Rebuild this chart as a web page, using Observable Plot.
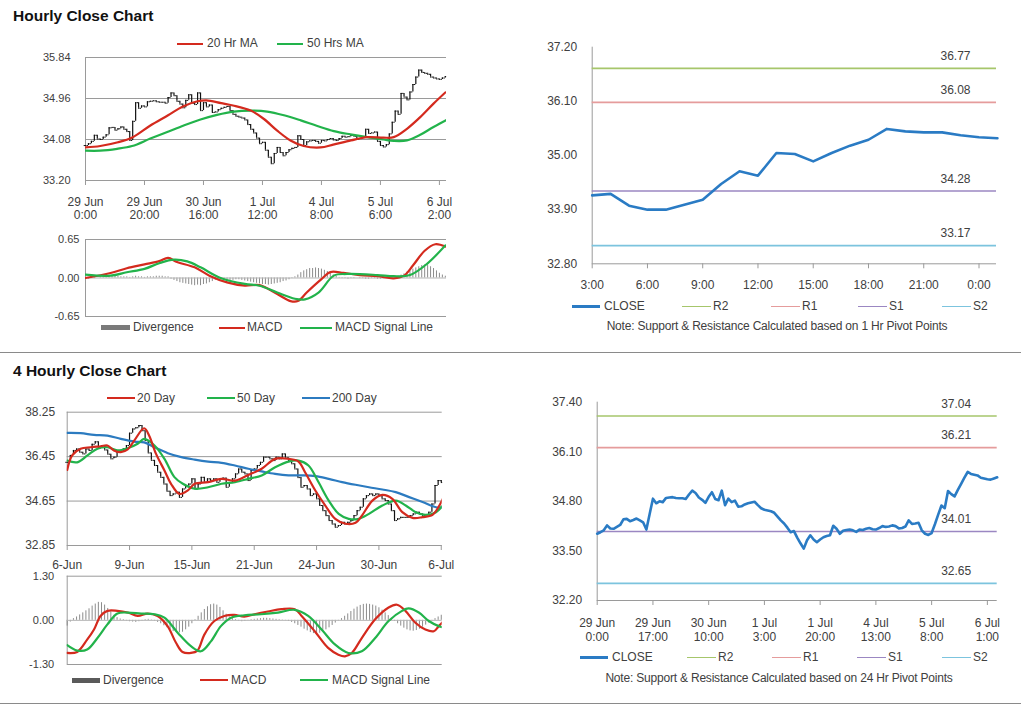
<!DOCTYPE html>
<html><head><meta charset="utf-8">
<script src="https://cdn.jsdelivr.net/npm/d3@7"></script>
<script src="https://cdn.jsdelivr.net/npm/@observablehq/plot@0.6"></script>
<style>
body{margin:0;background:#fff;font-family:"Liberation Sans",Arial,sans-serif;}
#root{position:relative;width:1024px;height:706px;overflow:hidden;background:#fff;}
.abs{position:absolute;}
.title{position:absolute;font-weight:bold;font-size:15.5px;line-height:15.5px;color:#111;white-space:nowrap;}
.lg{position:absolute;font-size:12px;line-height:14px;color:#404040;white-space:nowrap;}
.sep{position:absolute;left:0;width:1021px;height:1px;background:#8a8a8a;}
</style></head>
<body><div id="root"></div>
<script>
// ---------------- DATA ----------------
// Hourly closes, 29 Jun 0:00 .. 6 Jul ~3:00 (one per trading hour)
const hourlyClose = [
33.95,33.99,34.04,34.17,34.09,34.08,34.13,34.18,34.33,34.34,
34.28,34.31,34.35,34.30,34.25,34.06,34.47,34.87,34.75,34.80,
34.78,34.89,34.90,34.91,34.89,34.88,34.88,34.86,34.98,35.08,
35.02,34.90,34.84,34.76,34.92,35.04,34.86,34.83,35.08,34.70,
34.87,34.78,34.82,34.66,34.67,34.72,34.75,34.77,34.79,34.70,
34.62,34.58,34.56,34.54,34.50,34.40,34.30,34.22,34.11,33.99,
34.02,33.85,33.70,33.56,33.78,33.91,33.80,33.73,33.80,33.86,
33.89,33.91,34.16,34.08,33.95,34.03,34.05,34.06,34.04,34.00,
34.06,34.05,34.08,34.10,34.07,34.06,34.10,34.15,34.13,34.14,
34.17,34.15,34.09,34.10,34.14,34.30,34.21,34.22,34.24,34.04,
33.95,33.92,33.97,34.20,34.45,34.69,34.62,35.07,34.99,34.93,
35.10,35.26,35.42,35.57,35.52,35.50,35.48,35.42,35.40,35.38,
35.37,35.40,35.43];
const hourlyMA20 = [[0,33.91],[5,33.94],[11,34.02],[16,34.13],[22,34.38],[28,34.60],[33,34.79],[38,34.90],[41,34.92],[46,34.86],[50,34.81],[56,34.70],[60.5,34.52],[65,34.27],[69.5,34.06],[74,33.94],[79.7,33.91],[84,33.97],[90,34.06],[95.5,34.13],[101,34.12],[104.5,34.13],[109,34.31],[113.5,34.56],[118,34.85],[122,35.09]];
const hourlyMA50 = [[0,33.84],[5,33.84],[10.7,33.88],[15.8,33.94],[22,34.10],[27.7,34.24],[33.3,34.38],[39,34.51],[44.6,34.61],[50.3,34.68],[56,34.70],[61.6,34.68],[67.3,34.60],[73,34.49],[78.6,34.37],[84.2,34.26],[89.8,34.19],[95.5,34.13],[101,34.08],[104.5,34.05],[109,34.06],[113.5,34.18],[118,34.35],[122.4,34.50]];
const hourlyMACD = [[0,0],[8.5,0.085],[14,0.165],[20,0.23],[25,0.285],[28,0.34],[31,0.27],[37,0.18],[42,0.04],[48,-0.074],[54,-0.13],[59,-0.12],[65,-0.27],[69.5,-0.39],[72,-0.39],[75,-0.245],[80,-0.02],[83,0.10],[87.5,0.085],[93,0.05],[99,0.03],[104.5,-0.005],[108,0.04],[111,0.21],[115,0.46],[118.6,0.57],[122,0.53]];
const hourlySignal = [[0,0.057],[8.5,0.04],[14,0.097],[20,0.154],[25,0.25],[30,0.31],[34.5,0.28],[39,0.18],[45.8,0.0],[54,-0.10],[59,-0.13],[65,-0.245],[71,-0.35],[74.4,-0.36],[79,-0.245],[84.2,0.04],[88.7,0.068],[99,0.05],[104.5,0.03],[110,0.05],[115.8,0.24],[122,0.55]];
const hourlyDiv = [
-0.02,-0.02,-0.01,-0.01,0.00,0.02,0.03,0.03,0.04,0.04,
0.03,0.03,0.02,0.02,0.02,0.01,0.02,0.03,0.02,0.02,
0.01,0.02,0.02,0.02,0.03,0.03,0.03,0.02,0.02,-0.02,
-0.04,-0.06,-0.08,-0.09,-0.10,-0.11,-0.12,-0.13,-0.12,-0.13,
-0.11,-0.10,-0.08,-0.06,-0.04,-0.03,-0.03,-0.02,-0.03,-0.04,
-0.04,-0.03,-0.03,-0.04,-0.05,-0.06,-0.07,-0.08,-0.09,-0.10,
-0.11,-0.11,-0.12,-0.11,-0.10,-0.09,-0.08,-0.06,-0.05,-0.03,
-0.01,0.02,0.05,0.09,0.12,0.14,0.16,0.16,0.17,0.16,
0.15,0.13,0.11,0.08,0.05,0.03,0.01,-0.01,-0.01,-0.02,
-0.01,-0.01,0.00,-0.01,-0.01,-0.02,-0.02,-0.01,-0.01,-0.02,
-0.02,-0.01,0.00,0.01,0.01,0.02,0.03,0.05,0.07,0.10,
0.12,0.15,0.17,0.19,0.21,0.22,0.21,0.19,0.16,0.12,
0.08,0.05,0.03];
const hourlyYTicks = [33.20, 34.08, 34.96, 35.84];
const hourlyMacdTicks = [-0.65, 0, 0.65];
const hourlyTickIdx = [0, 20, 40, 60, 80, 100, 120];
const hourlyTickLabels = ["29 Jun\n0:00","29 Jun\n20:00","30 Jun\n16:00","1 Jul\n12:00","4 Jul\n8:00","5 Jul\n6:00","6 Jul\n2:00"];

// 1 Hr pivot panel
const pivot1Close = [34.19,34.22,33.98,33.90,33.90,34.00,34.10,34.42,34.68,34.59,35.05,35.03,34.88,35.05,35.20,35.32,35.54,35.49,35.47,35.47,35.41,35.37,35.35];
const pivot1Levels = [36.77, 36.08, 34.28, 33.17];
const pivot1YTicks = [32.80, 33.90, 35.00, 36.10, 37.20];
const pivot1TickIdx = [0, 3, 6, 9, 12, 15, 18, 21];
const pivot1TickLabels = ["3:00","6:00","9:00","12:00","15:00","18:00","21:00","0:00"];

// 4 hourly panel
const fourClose = [
36.22,36.50,36.70,36.76,36.63,36.56,36.76,36.70,36.95,37.05,
36.80,36.90,36.72,36.55,36.36,36.43,36.63,36.66,36.76,36.90,
37.40,37.57,37.62,37.71,37.50,37.10,36.60,36.30,36.09,35.82,
35.61,35.34,35.05,34.87,34.94,35.01,34.80,35.14,35.25,35.34,
35.55,35.14,35.34,35.61,35.41,35.55,35.48,35.55,35.41,35.55,
35.58,35.21,35.40,35.55,35.75,35.95,35.82,35.75,35.48,35.89,
35.95,36.09,36.22,36.43,36.43,36.36,36.29,36.43,36.36,36.56,
36.40,36.29,36.16,35.95,35.60,35.21,35.28,35.14,34.87,34.94,
34.74,34.47,34.26,34.06,33.86,33.72,33.59,33.66,33.79,33.72,
33.79,33.86,34.06,34.26,34.40,34.74,34.87,34.94,34.87,34.94,
34.87,34.74,34.67,34.53,34.26,33.86,33.93,33.99,33.99,33.99,
34.06,34.13,34.20,34.13,34.06,34.10,34.20,34.53,35.28,35.48,
35.40];
const fourMA20 = [[0,35.91],[1.6,36.50],[4.3,36.77],[7.5,36.83],[10.8,36.87],[12.9,36.90],[15,36.70],[17.2,36.63],[19.4,36.74],[21.5,37.10],[24.7,37.60],[26.3,37.30],[28.5,36.56],[31.2,35.89],[33.3,35.35],[36,34.94],[38.7,35.08],[40.9,35.35],[45.2,35.42],[49.5,35.55],[53.8,35.48],[58.1,35.71],[62.4,35.96],[66.7,36.36],[71,36.36],[74.2,36.25],[76.3,35.82],[79.6,35.08],[82.8,34.47],[86,33.93],[89.3,33.73],[92.5,33.77],[94.6,34.07],[97.9,34.67],[101.1,34.90],[104.3,34.74],[107.5,34.20],[110.8,33.97],[114,34.00],[117.2,34.09],[119.4,34.47],[121,34.88]];
const fourMA50 = [[0,36.29],[3.2,36.22],[6.5,36.50],[9.7,36.77],[12.9,36.83],[16.1,36.70],[19.4,36.79],[22.6,36.97],[24.7,37.17],[28,36.90],[31.2,36.36],[34.4,35.62],[37.1,35.35],[40.9,35.15],[45.2,35.21],[49.5,35.35],[53.8,35.42],[58.1,35.55],[62.4,35.69],[66.7,36.02],[71,36.25],[74.2,36.29],[77.4,36.09],[80.6,35.42],[83.9,34.67],[87.1,34.13],[90.3,33.93],[93.5,33.93],[96.8,34.13],[101.1,34.47],[105.4,34.67],[108.6,34.47],[111.8,34.20],[115,34.09],[118.3,34.20],[121,34.54]];
const fourMA200 = [[0,37.41],[4.3,37.40],[8.6,37.33],[12.9,37.30],[17.2,37.17],[21.5,37.06],[24.7,37.03],[28,36.83],[32.3,36.59],[36.6,36.43],[40.9,36.33],[45.2,36.25],[49.5,36.20],[53.8,36.09],[58.1,35.96],[62.4,35.85],[66.7,35.75],[71,35.69],[75.3,35.69],[79.6,35.66],[83.9,35.55],[88.2,35.42],[92.5,35.31],[96.8,35.21],[101.1,35.12],[105.4,35.01],[109.7,34.81],[114,34.61],[118.3,34.40],[121,34.40]];
const fourMACD = [[0,-0.96],[3.2,-0.93],[6.4,-0.57],[8.6,-0.27],[10.7,0.13],[12.9,0.28],[16.1,0.28],[19.4,0.23],[22.6,0.13],[25.8,0.20],[29,0.13],[32.2,-0.17],[34.9,-0.66],[37,-0.93],[39.7,-0.96],[41.8,-0.89],[44,-0.42],[47.2,-0.02],[50.4,0.13],[53.6,0.16],[56.8,0.11],[60.1,0.18],[64.4,0.26],[68.7,0.33],[73,0.33],[75.2,0.13],[79.4,-0.32],[83.7,-0.81],[87,-1.01],[89.1,-1.06],[91.3,-0.96],[94.5,-0.52],[98.8,0.03],[103.1,0.38],[105.8,0.46],[108.5,0.28],[111.7,-0.07],[114.9,-0.27],[117.6,-0.32],[119.2,-0.17],[120.8,-0.02]];
const fourSignal = [[0,-0.73],[3.2,-0.89],[6.4,-0.86],[9.7,-0.52],[12.9,-0.12],[16.1,0.20],[19.4,0.23],[23.7,0.20],[28,0.18],[31.2,0.08],[35.5,-0.37],[39.7,-0.76],[42.9,-0.91],[46.1,-0.62],[49.3,-0.17],[52.6,0.08],[56.8,0.15],[62.2,0.18],[67.6,0.23],[73,0.31],[77.3,0.13],[81.6,-0.27],[85.9,-0.71],[90.2,-0.96],[94.5,-0.91],[98.8,-0.52],[103.1,-0.02],[107.4,0.28],[109.5,0.35],[112.8,0.23],[116,-0.02],[119.2,-0.17],[121.4,-0.22]];
const fourDiv = [
-0.17,-0.05,0.05,0.10,0.16,0.22,0.28,0.34,0.42,0.48,
0.53,0.52,0.45,0.35,0.25,0.15,0.08,0.04,0.02,-0.02,
-0.04,-0.05,-0.06,-0.04,-0.02,0.02,0.03,0.01,-0.02,-0.06,
-0.10,-0.16,-0.22,-0.28,-0.33,-0.36,-0.37,-0.35,-0.28,-0.20,
-0.10,0.02,0.12,0.22,0.32,0.40,0.46,0.48,0.45,0.38,
0.28,0.18,0.10,0.05,0.02,-0.02,-0.04,-0.03,-0.01,0.02,
0.03,0.04,0.05,0.06,0.06,0.05,0.04,0.03,0.02,0.01,
-0.01,-0.03,-0.06,-0.10,-0.15,-0.20,-0.26,-0.31,-0.36,-0.39,
-0.40,-0.38,-0.34,-0.28,-0.22,-0.15,-0.08,-0.02,0.05,0.12,
0.19,0.26,0.33,0.39,0.44,0.47,0.48,0.47,0.45,0.42,
0.37,0.30,0.22,0.14,0.06,-0.03,-0.10,-0.17,-0.23,-0.28,
-0.31,-0.32,-0.30,-0.26,-0.20,-0.14,-0.08,-0.02,0.05,0.10,
0.15];
const fourYTicks = [32.85, 34.65, 36.45, 38.25];
const fourMacdTicks = [-1.30, 0, 1.30];
const fourTickIdx = [0, 20, 40, 60, 80, 100, 120];
const fourTickLabels = ["6-Jun","9-Jun","15-Jun","21-Jun","24-Jun","30-Jun","6-Jul"];

// 24 Hr pivot panel (uses the hourly closes)
const pivot24Levels = [37.04, 36.21, 34.01, 32.65];
const pivot24YTicks = [32.20, 33.50, 34.80, 36.10, 37.40];
const pivot24TickIdx = [0, 17, 34, 51, 68, 85, 102, 119];
const pivot24TickLabels = ["29 Jun\n0:00","29 Jun\n17:00","30 Jun\n10:00","1 Jul\n3:00","1 Jul\n20:00","4 Jul\n13:00","5 Jul\n8:00","6 Jul\n1:00"];

const levelNames = ["R2","R1","S1","S2"];

// ---------------- STYLE ----------------
const FONT = '"Liberation Sans", Arial, Helvetica, sans-serif';
const AX = "#9a9a9a", TXT = "#404040";
const RED = "#d42a1e", GREEN = "#22b34b", BLUE200 = "#2c7bc0", CLOSEC = "#2a7bc4", DIVC = "#8c8c8c";
const levelColors = ["#a6c66b", "#e59c9c", "#9b87c2", "#7cc4de"];

const root = document.getElementById("root");
function mount(svg, left, top) {
  const d = document.createElement("div");
  d.className = "abs"; d.style.left = left + "px"; d.style.top = top + "px";
  d.appendChild(svg); root.appendChild(d);
}
function text(str, left, top, cls, extra) {
  const d = document.createElement("div");
  d.className = cls; d.textContent = str;
  d.style.left = left + "px"; d.style.top = top + "px";
  if (extra) Object.assign(d.style, extra);
  root.appendChild(d); return d;
}
function legend(items, y) {
  for (const it of items) {
    const s = document.createElement("div");
    s.className = "abs";
    s.style.left = it.x0 + "px"; s.style.width = (it.x1 - it.x0) + "px";
    s.style.top = (y - it.th / 2) + "px"; s.style.height = it.th + "px";
    s.style.background = it.color;
    root.appendChild(s);
    text(it.label, it.tx, y - 7.5, "lg");
  }
}
const style = (fs) => ({fontFamily: FONT, fontSize: fs, color: TXT, background: "transparent", overflow: "visible"});
const pl = (pairs, color, w) => Plot.line(pairs, {x: d => d[0], y: d => d[1], stroke: color, strokeWidth: w, curve: "catmull-rom", clip: true});
const bars = (closes) => closes.map((c, i) => ({i, o: i === 0 ? c : closes[i - 1], c}));
const barMarks = (data) => [
  Plot.ruleX(data, {x: "i", y1: "o", y2: "c", stroke: "#111", strokeWidth: 1.2}),
  Plot.ruleY(data, {y: "o", x1: d => d.i - 0.45, x2: "i", stroke: "#111", strokeWidth: 1}),
  Plot.ruleY(data, {y: "c", x1: "i", x2: d => d.i + 0.45, stroke: "#111", strokeWidth: 1})
];
const fmt2 = d => d.toFixed(2);

// ---------------- TITLES & SEPARATORS ----------------
text("Hourly Close Chart", 13, 7.6, "title");
text("4 Hourly Close Chart", 13, 362.6, "title");
const s1 = document.createElement("div"); s1.className = "sep"; s1.style.top = "352px"; root.appendChild(s1);
const s2 = document.createElement("div"); s2.className = "sep"; s2.style.top = "703px"; root.appendChild(s2);

// ---------------- PANEL 1: hourly price ----------------
mount(Plot.plot({
  width: 460, height: 190, marginLeft: 85, marginRight: 14, marginTop: 17, marginBottom: 50,
  style: style("11px"),
  x: {domain: [0, 122.4], label: null}, y: {domain: [33.2, 35.84], label: null},
  marks: [
    Plot.ruleY(hourlyYTicks, {stroke: AX}),
    Plot.ruleX([0], {stroke: AX}),
    Plot.axisY(hourlyYTicks, {tickSize: 0, tickPadding: 15, tickFormat: fmt2, fill: TXT, label: null}),
    Plot.axisX(hourlyTickIdx, {tickSize: 5, tickPadding: 11, stroke: AX, fill: TXT, fontSize: 12, lineHeight: 1.12, label: null,
      tickFormat: d => hourlyTickLabels[hourlyTickIdx.indexOf(d)]}),
    ...barMarks(bars(hourlyClose)),
    pl(hourlyMA50, GREEN, 2.2),
    pl(hourlyMA20, RED, 2.2)
  ]
}), 0, 40);
legend([
  {x0: 177, x1: 203, th: 2, color: RED, label: "20 Hr MA", tx: 207},
  {x0: 277, x1: 303, th: 2, color: GREEN, label: "50 Hrs MA", tx: 307}
], 43.5);

// ---------------- PANEL 1b: hourly MACD ----------------
mount(Plot.plot({
  width: 460, height: 95, marginLeft: 85, marginRight: 14, marginTop: 11, marginBottom: 7,
  style: style("11px"),
  x: {domain: [0, 122.4], axis: null, label: null}, y: {domain: [-0.65, 0.65], label: null},
  marks: [
    Plot.ruleY([0.65, -0.65], {stroke: AX}),
    Plot.ruleX([0], {stroke: AX}),
    Plot.axisY(hourlyMacdTicks, {tickSize: 0, tickPadding: 6, tickFormat: fmt2, fill: TXT, label: null}),
    Plot.ruleX(hourlyDiv.map((v, i) => ({i, v})), {x: "i", y1: 0, y2: "v", stroke: DIVC, strokeWidth: 1}),
    Plot.ruleY([0], {stroke: "#b5b5b5"}),
    pl(hourlyMACD, RED, 2.2),
    pl(hourlySignal, GREEN, 2.2)
  ]
}), 0, 228);
legend([
  {x0: 101, x1: 130, th: 5, color: "#7a7a7a", label: "Divergence", tx: 133},
  {x0: 219, x1: 245, th: 2, color: RED, label: "MACD", tx: 247},
  {x0: 300, x1: 332, th: 2, color: GREEN, label: "MACD  Signal Line", tx: 335}
], 327.5);

// ---------------- PANEL 2: 1 Hr pivot ----------------
function pivotMarks(levels) {
  const m = [];
  levels.forEach((v, k) => {
    m.push(Plot.ruleY([v], {stroke: levelColors[k], strokeWidth: 1.6}));
    m.push(Plot.text([v], {y: d => d, frameAnchor: "right", dx: -26, dy: -12, text: fmt2, fill: TXT, fontSize: 12}));
  });
  return m;
}
mount(Plot.plot({
  width: 490, height: 270, marginLeft: 71.7, marginRight: 14, marginTop: 16.7, marginBottom: 36.7,
  style: style("12px"),
  x: {domain: [0, 21.95], label: null}, y: {domain: [32.8, 37.2], label: null},
  marks: [
    Plot.ruleX([0], {stroke: AX}),
    Plot.ruleY([32.8], {stroke: AX}),
    Plot.axisY(pivot1YTicks, {tickSize: 0, tickPadding: 15, tickFormat: fmt2, fill: TXT, label: null}),
    Plot.axisX(pivot1TickIdx, {tickSize: 5, tickPadding: 12, stroke: AX, fill: TXT, label: null,
      tickFormat: d => pivot1TickLabels[pivot1TickIdx.indexOf(d)]}),
    ...pivotMarks(pivot1Levels),
    Plot.line(pivot1Close.map((v, i) => ({i, v})), {x: "i", y: "v", stroke: CLOSEC, strokeWidth: 2.6})
  ]
}), 520, 30);
function pivotLegend(y, xs) {
  const items = [{x0: xs[0], x1: xs[0] + 28, th: 2.5, color: CLOSEC, label: "CLOSE", tx: xs[0] + 32}];
  levelNames.forEach((n, k) => items.push({x0: xs[k + 1], x1: xs[k + 1] + 29, th: 1, color: levelColors[k], label: n, tx: xs[k + 1] + 31}));
  legend(items, y);
}
pivotLegend(306.5, [572, 682, 771, 858, 942]);
text("Note: Support & Resistance Calculated based on 1 Hr Pivot Points", 0, 318.5, "lg",
  {left: "777px", transform: "translateX(-50%)", letterSpacing: "-0.2px"});

// ---------------- PANEL 3: 4 hourly price ----------------
mount(Plot.plot({
  width: 460, height: 172, marginLeft: 66.7, marginRight: 18.3, marginTop: 11.7, marginBottom: 27,
  style: style("12px"),
  x: {domain: [0, 120.3], label: null}, y: {domain: [32.85, 38.25], label: null},
  marks: [
    Plot.ruleY(fourYTicks, {stroke: AX}),
    Plot.ruleX([0], {stroke: AX}),
    Plot.axisY(fourYTicks, {tickSize: 0, tickPadding: 12, tickFormat: fmt2, fill: TXT, label: null}),
    Plot.axisX(fourTickIdx, {tickSize: 5, tickPadding: 10, stroke: AX, fill: TXT, label: null,
      tickFormat: d => fourTickLabels[fourTickIdx.indexOf(d)]}),
    ...barMarks(bars(fourClose)),
    pl(fourMA200, BLUE200, 2.2),
    pl(fourMA50, GREEN, 2.2),
    pl(fourMA20, RED, 2.2)
  ]
}), 0, 400);
legend([
  {x0: 107, x1: 135, th: 2, color: RED, label: "20 Day", tx: 137},
  {x0: 207, x1: 235, th: 2, color: GREEN, label: "50 Day", tx: 237},
  {x0: 302, x1: 330, th: 2, color: BLUE200, label: "200 Day", tx: 332}
], 398.3);

// ---------------- PANEL 3b: 4 hourly MACD ----------------
mount(Plot.plot({
  width: 460, height: 100, marginLeft: 66.7, marginRight: 18.3, marginTop: 7.7, marginBottom: 4,
  style: style("11px"),
  x: {domain: [0, 120.3], axis: null, label: null}, y: {domain: [-1.3, 1.3], label: null},
  marks: [
    Plot.ruleY([1.3, -1.3], {stroke: AX}),
    Plot.ruleX([0], {stroke: AX}),
    Plot.axisY(fourMacdTicks, {tickSize: 0, tickPadding: 13, tickFormat: fmt2, fill: TXT, label: null}),
    Plot.ruleX(fourDiv.map((v, i) => ({i, v})), {x: "i", y1: 0, y2: "v", stroke: DIVC, strokeWidth: 1}),
    Plot.ruleY([0], {stroke: "#b5b5b5"}),
    pl(fourMACD, RED, 2.2),
    pl(fourSignal, GREEN, 2.2)
  ]
}), 0, 568);
legend([
  {x0: 72, x1: 100, th: 5, color: "#5a5a5a", label: "Divergence", tx: 103},
  {x0: 200, x1: 228, th: 2, color: RED, label: "MACD", tx: 231},
  {x0: 300, x1: 328, th: 2, color: GREEN, label: "MACD  Signal Line", tx: 332}
], 680);

// ---------------- PANEL 4: 24 Hr pivot ----------------
mount(Plot.plot({
  width: 490, height: 265, marginLeft: 76.7, marginRight: 13.3, marginTop: 16.7, marginBottom: 50,
  style: style("12px"),
  x: {domain: [0, 122], label: null}, y: {domain: [32.2, 37.4], label: null},
  marks: [
    Plot.ruleX([0], {stroke: AX}),
    Plot.ruleY([32.2], {stroke: AX}),
    Plot.axisY(pivot24YTicks, {tickSize: 0, tickPadding: 15, tickFormat: fmt2, fill: TXT, label: null}),
    Plot.axisX(pivot24TickIdx, {tickSize: 5, tickPadding: 11, stroke: AX, fill: TXT, lineHeight: 1.2, label: null,
      tickFormat: d => pivot24TickLabels[pivot24TickIdx.indexOf(d)]}),
    ...pivotMarks(pivot24Levels),
    Plot.line(hourlyClose.map((v, i) => ({i, v})), {x: "i", y: "v", stroke: CLOSEC, strokeWidth: 2.6})
  ]
}), 520, 385);
pivotLegend(657.7, [580, 687, 772, 857, 942]);
text("Note: Support & Resistance Calculated based on 24 Hr Pivot Points", 0, 670.5, "lg",
  {left: "779px", transform: "translateX(-50%)", letterSpacing: "-0.2px"});
</script>
</body></html>
